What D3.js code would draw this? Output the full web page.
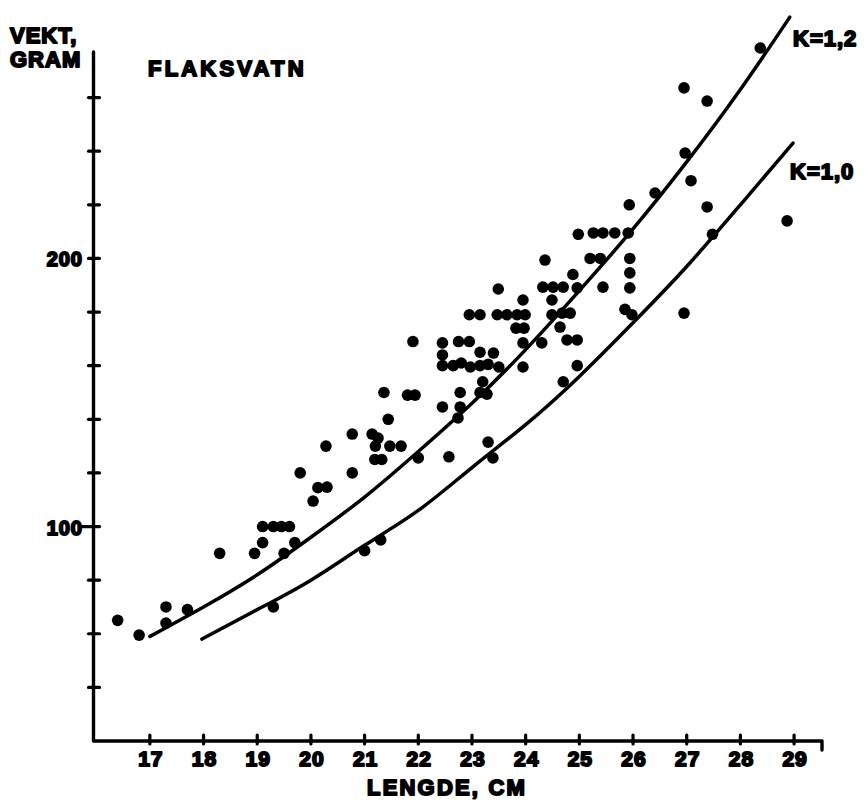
<!DOCTYPE html>
<html>
<head>
<meta charset="utf-8">
<script src="https://cdn.jsdelivr.net/npm/d3@7"></script>
<style>
  body { margin: 0; background: #fff; }
  text { font-family: "Liberation Sans", Arial, sans-serif; font-weight: bold; fill: #000;
         stroke: #000; stroke-width: 1.9px; paint-order: stroke; stroke-linejoin: round; }
</style>
</head>
<body>
<div id="chart"></div>
<script>
// fish length (cm) and weight (g)
var fishLength = [
  16.4, 16.8, 17.3, 17.3, 17.7, 18.3, 19.1, 19.3, 19.45, 19.6, 19.1, 18.95, 19.7, 19.5, 19.3,
  19.8, 21.0, 21.3,
  21.9, 22.45, 22.75, 22.95, 22.45, 23.15, 23.4,
  22.45, 22.65, 22.8, 22.97, 23.15, 23.3, 23.5,
  23.95, 23.82, 23.97, 23.95, 23.2, 22.78, 23.15, 23.28, 22.78, 22.45, 22.74,
  21.36, 21.8, 21.94, 21.44, 20.77, 21.14, 21.25, 21.2, 21.47, 21.68, 21.19, 21.32,
  20.28, 20.77, 20.13, 20.3, 20.04, 22.0, 22.57, 23.3, 23.39,
  24.98, 25.26, 25.44, 25.66, 25.91, 24.36, 25.2, 25.39, 25.94, 25.94, 25.94,
  24.88, 25.44, 23.49, 24.32, 24.51, 24.7, 24.96, 24.49, 23.95,
  22.95, 23.15, 23.47, 23.65, 23.84, 23.99, 24.49, 24.68, 24.83,
  24.64, 24.3, 24.77, 24.96, 24.96, 24.7, 25.85, 25.98,
  27.08, 26.41, 25.93, 27.38, 27.48, 26.95, 28.37, 26.95, 27.38, 26.97, 28.87
];
var fishWeight = [
  65, 59.5, 70, 64, 69, 90, 100, 100, 100, 100, 94, 90, 94, 90, 70,
  120, 91, 95,
  169, 168.5, 169, 169, 164, 165, 164.7,
  160, 160, 161, 159.5, 160, 160.5, 159.5,
  168.5, 174, 174, 159.5, 154, 150, 150, 149.4, 144.6, 144.6, 140.5,
  150, 149, 149, 140, 134.5, 134.5, 133, 130, 130, 130, 125, 125,
  130, 120, 114.5, 114.7, 109.5, 125.6, 126, 131.5, 125.6,
  209, 209.5, 209.5, 209.5, 209.5, 199.4, 200, 200, 200, 194.6, 189,
  194, 189.3, 188.6, 189.3, 189.3, 189.3, 189, 184.5, 184.5,
  179, 179, 179, 179, 179, 179, 179, 179.6, 179.6,
  174.4, 168.5, 169.6, 169.6, 160, 154, 181, 179,
  229, 224.4, 220, 219.2, 209, 179.6, 278.5, 263.6, 258.7, 239.3, 214
];

// condition-factor curves, points
var k12Length = [17, 18, 19, 20, 21, 22, 23, 24, 25, 26, 27, 28, 28.92];
var k12Weight = [59, 70, 82, 96, 111, 128, 146, 166, 188, 211, 236, 263, 290];
var k10Length = [17.97, 19, 20, 21, 22, 23, 24, 25, 26, 27, 28, 28.98];
var k10Weight = [58, 69, 80, 93, 106, 122, 138, 156, 176, 197, 220, 243];

var xTicks = [17, 18, 19, 20, 21, 22, 23, 24, 25, 26, 27, 28, 29];
var yTicks = [40, 60, 80, 100, 120, 140, 160, 180, 200, 220, 240, 260];
var yLabels = [100, 200];

var W = 866, H = 803;
var x = d3.scaleLinear().domain([15.95, 29.52]).range([93.5, 822]);
var y = d3.scaleLinear().domain([20, 277]).range([741, 52]);

var svg = d3.select("#chart").append("svg")
    .attr("width", W)
    .attr("height", H);

svg.append("rect").attr("width", W).attr("height", H).attr("fill", "#fff");

// axes drawn by hand to get the heavy scanned look
var axes = svg.append("g")
    .attr("stroke", "#000")
    .attr("fill", "none")
    .attr("stroke-linecap", "round")
    .attr("stroke-linejoin", "round");

axes.append("path")
    .attr("stroke-width", 3.4)
    .attr("d", "M" + x.range()[0] + "," + y(277) +
               "V" + y(20) +
               "H" + x.range()[1] +
               "v9");

axes.selectAll(".ytick")
    .data(yTicks)
  .enter().append("line")
    .attr("class", "ytick")
    .attr("stroke-width", 3.2)
    .attr("x1", function(d) { return d === 100 ? x.range()[0] - 14 : x.range()[0] - 5; })
    .attr("x2", x.range()[0] + 6)
    .attr("y1", function(d) { return y(d); })
    .attr("y2", function(d) { return y(d); });

axes.selectAll(".xtick")
    .data(xTicks)
  .enter().append("line")
    .attr("class", "xtick")
    .attr("stroke-width", 3.2)
    .attr("x1", function(d) { return x(d); })
    .attr("x2", function(d) { return x(d); })
    .attr("y1", y(20) - 6)
    .attr("y2", y(20) + 3);

svg.selectAll(".xlab")
    .data(xTicks)
  .enter().append("text")
    .attr("class", "xlab")
    .attr("x", function(d) { return x(d) + 1; })
    .attr("y", 766)
    .attr("text-anchor", "middle")
    .attr("font-size", 21)
    .attr("letter-spacing", 1)
    .text(function(d) { return d; });

svg.selectAll(".ylab")
    .data(yLabels)
  .enter().append("text")
    .attr("class", "ylab")
    .attr("x", 83)
    .attr("y", function(d) { return y(d) + 8; })
    .attr("text-anchor", "end")
    .attr("font-size", 20)
    .attr("letter-spacing", 1)
    .text(function(d) { return d; });

// curves
var line = d3.line()
    .x(function(d) { return x(d[0]); })
    .y(function(d) { return y(d[1]); })
    .curve(d3.curveNatural);

var curves = [
  { pts: d3.zip(k12Length, k12Weight) },
  { pts: d3.zip(k10Length, k10Weight) }
];

svg.selectAll(".curve")
    .data(curves)
  .enter().append("path")
    .attr("class", "curve")
    .attr("fill", "none")
    .attr("stroke", "#000")
    .attr("stroke-width", 3.5)
    .attr("stroke-linecap", "round")
    .attr("d", function(d) { return line(d.pts); });

// observations
svg.append("g").selectAll("circle")
    .data(d3.zip(fishLength, fishWeight))
  .enter().append("circle")
    .attr("cx", function(d) { return x(d[0]); })
    .attr("cy", function(d) { return y(d[1]); })
    .attr("r", 5.8)
    .attr("fill", "#000");

// labels
var labels = [
  { t: "VEKT,", x: 10, y: 43 },
  { t: "GRAM", x: 10, y: 67 },
  { t: "FLAKSVATN", x: 148, y: 76, ls: 3.2 },
  { t: "K=1,2", x: 793, y: 46 },
  { t: "K=1,0", x: 790, y: 179 },
  { t: "LENGDE, CM", x: 367, y: 795, ls: 2.2 }
];

svg.selectAll(".lab")
    .data(labels)
  .enter().append("text")
    .attr("class", "lab")
    .attr("x", function(d) { return d.x; })
    .attr("y", function(d) { return d.y; })
    .attr("font-size", 22)
    .attr("letter-spacing", function(d) { return d.ls || 1; })
    .text(function(d) { return d.t; });
</script>
</body>
</html>
